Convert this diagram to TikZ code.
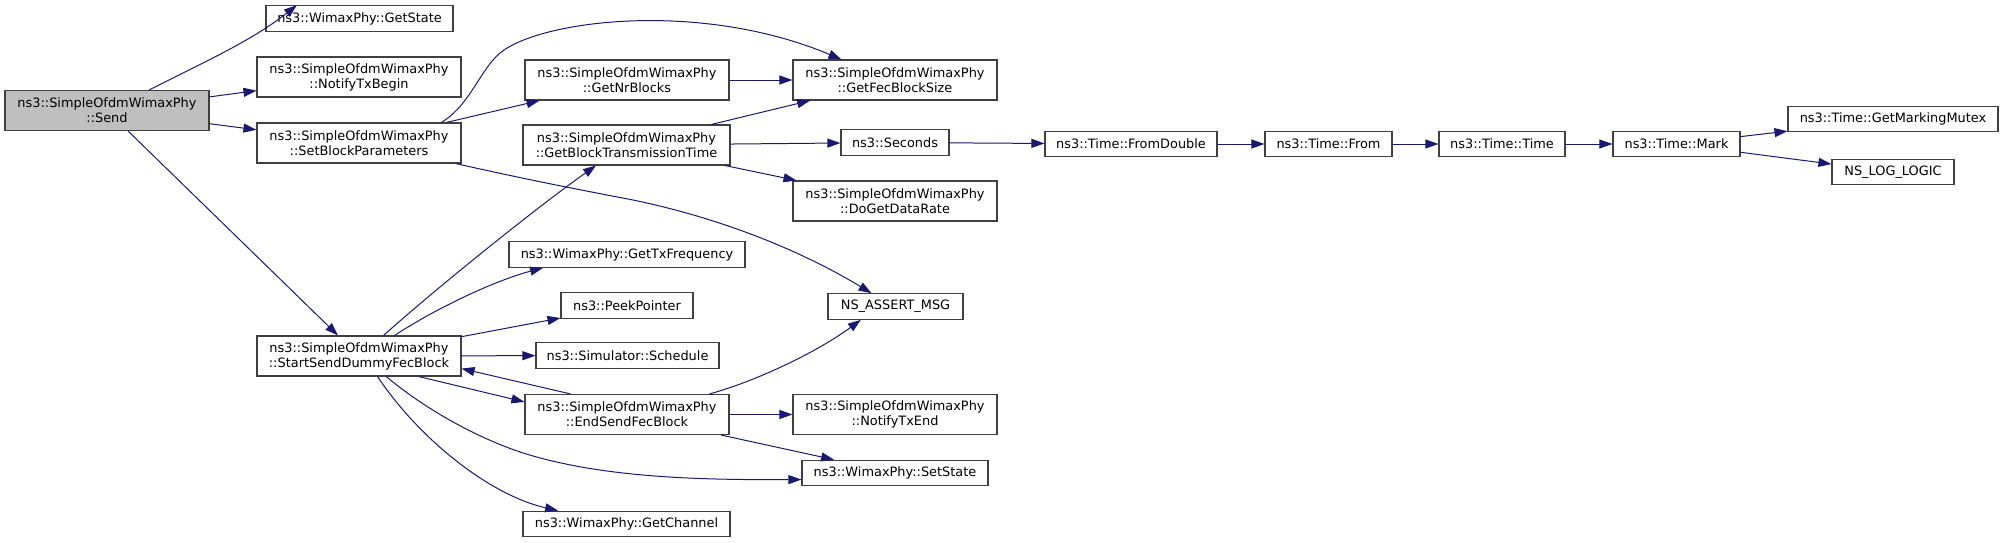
\documentclass[tikz,border=0pt]{standalone}
\usepackage{fontspec}
\setmainfont{DejaVu Sans}
\usetikzlibrary{arrows.meta}
\definecolor{edgeblue}{HTML}{191970}
\definecolor{boxgray}{HTML}{404040}
\definecolor{rootfill}{HTML}{BFBFBF}
\tikzset{
  fn/.style={draw=boxgray, line width=1.1pt, fill=white, align=center,
             inner sep=2pt, minimum height=25.5pt,
             font=\fontsize{12.9}{15}\selectfont},
  two/.style={minimum height=40pt},
  root/.style={fn, two, fill=rootfill},
  call/.style={-{Triangle[length=13pt, width=9pt]}, line width=1pt, draw=edgeblue},
}
\begin{document}
\begin{tikzpicture}[x=1pt, y=-1pt]
  \useasboundingbox (0,0) rectangle (2004,543);
  % first column
  \node[root, minimum width=204pt] (send) at (107,110.5) {ns3::SimpleOfdmWimaxPhy\\::Send};
  % second column
  \node[fn, minimum width=187pt] (getstate) at (359.5,18.5) {ns3::WimaxPhy::GetState};
  \node[fn, two, minimum width=204pt] (notifybegin) at (359,77) {ns3::SimpleOfdmWimaxPhy\\::NotifyTxBegin};
  \node[fn, two, minimum width=204pt] (setblock) at (359,143) {ns3::SimpleOfdmWimaxPhy\\::SetBlockParameters};
  \node[fn, two, minimum width=204pt] (startsend) at (359,356) {ns3::SimpleOfdmWimaxPhy\\::StartSendDummyFecBlock};
  % third column
  \node[fn, two, minimum width=204pt] (getnr) at (627,80) {ns3::SimpleOfdmWimaxPhy\\::GetNrBlocks};
  \node[fn, two, minimum width=207pt] (blocktime) at (626.5,145) {ns3::SimpleOfdmWimaxPhy\\::GetBlockTransmissionTime};
  \node[fn, minimum width=236pt] (txfreq) at (627,254.5) {ns3::WimaxPhy::GetTxFrequency};
  \node[fn, minimum width=132pt] (peek) at (627,305.5) {ns3::PeekPointer};
  \node[fn, minimum width=183pt] (schedule) at (627.5,355.5) {ns3::Simulator::Schedule};
  \node[fn, two, minimum width=204pt] (endsend) at (627,414.5) {ns3::SimpleOfdmWimaxPhy\\::EndSendFecBlock};
  \node[fn, minimum width=207pt] (channel) at (626.5,524) {ns3::WimaxPhy::GetChannel};
  % fourth column
  \node[fn, two, minimum width=204pt] (fecsize) at (895,80) {ns3::SimpleOfdmWimaxPhy\\::GetFecBlockSize};
  \node[fn, minimum width=108pt] (seconds) at (895,142.5) {ns3::Seconds};
  \node[fn, two, minimum width=204pt] (datarate) at (895,201) {ns3::SimpleOfdmWimaxPhy\\::DoGetDataRate};
  \node[fn, minimum width=135pt] (assertmsg) at (895.5,306.5) {NS\_ASSERT\_MSG};
  \node[fn, two, minimum width=204pt] (notifyend) at (895,414.5) {ns3::SimpleOfdmWimaxPhy\\::NotifyTxEnd};
  \node[fn, minimum width=186pt] (setstate) at (895,473) {ns3::WimaxPhy::SetState};
  % time chain
  \node[fn, minimum width=172pt] (fromdouble) at (1131,144) {ns3::Time::FromDouble};
  \node[fn, minimum width=127pt] (from) at (1328.5,144) {ns3::Time::From};
  \node[fn, minimum width=126pt] (time) at (1502,144) {ns3::Time::Time};
  \node[fn, minimum width=127pt] (mark) at (1676.5,144) {ns3::Time::Mark};
  \node[fn, minimum width=210pt] (mutex) at (1893,119) {ns3::Time::GetMarkingMutex};
  \node[fn, minimum width=122pt] (loglogic) at (1893,172) {NS\_LOG\_LOGIC};

  % calls from Send
  \draw[call] (send.26.6) .. controls (200,64) and (250,42) .. (getstate.168.1);
  \draw[call] (send) -- (notifybegin);
  \draw[call] (send) -- (setblock);
  \draw[call] (send) -- (startsend);
  % calls from SetBlockParameters
  \draw[call] (setblock.14.5) .. controls (470,105) and (480,70) .. (500,53)
              .. controls (540,20) and (700,0) .. (fecsize.159);
  \draw[call] (setblock) -- (getnr);
  \draw[call] (setblock.-12.8) .. controls (520,178) and (560,186) .. (633,200)
              .. controls (720,218) and (800,250) .. (assertmsg.151);
  \draw[call] (getnr) -- (fecsize);
  % calls from GetBlockTransmissionTime
  \draw[call] (blocktime) -- (fecsize);
  \draw[call] (blocktime) -- (seconds);
  \draw[call] (blocktime) -- (datarate);
  % calls from StartSendDummyFecBlock
  \draw[call] (startsend.40.5) .. controls (440,285) and (540,205) .. (blocktime.214.1);
  \draw[call] (startsend.30.5) .. controls (430,312) and (490,282) .. (txfreq.189.2);
  \draw[call] (startsend) -- (peek);
  \draw[call] (startsend) -- (schedule);
  \draw[call] (startsend.-19) -- (endsend.173);
  \draw[call] (startsend.-37.6) .. controls (420,405) and (470,435) .. (520,452)
              .. controls (600,478) and (700,480) .. (setstate.184.3);
  \draw[call] (startsend.-48) .. controls (420,440) and (490,495) .. (channel.169.4);
  % calls from EndSendFecBlock
  \draw[call] (endsend.160.8) -- (startsend.-7.8);
  \draw[call] (endsend.14.4) .. controls (760,380) and (820,350) .. (assertmsg.201);
  \draw[call] (endsend) -- (notifyend);
  \draw[call] (endsend) -- (setstate);
  % time chain
  \draw[call] (seconds) -- (fromdouble);
  \draw[call] (fromdouble) -- (from);
  \draw[call] (from) -- (time);
  \draw[call] (time) -- (mark);
  \draw[call] (mark) -- (mutex);
  \draw[call] (mark) -- (loglogic);
\end{tikzpicture}
\end{document}
